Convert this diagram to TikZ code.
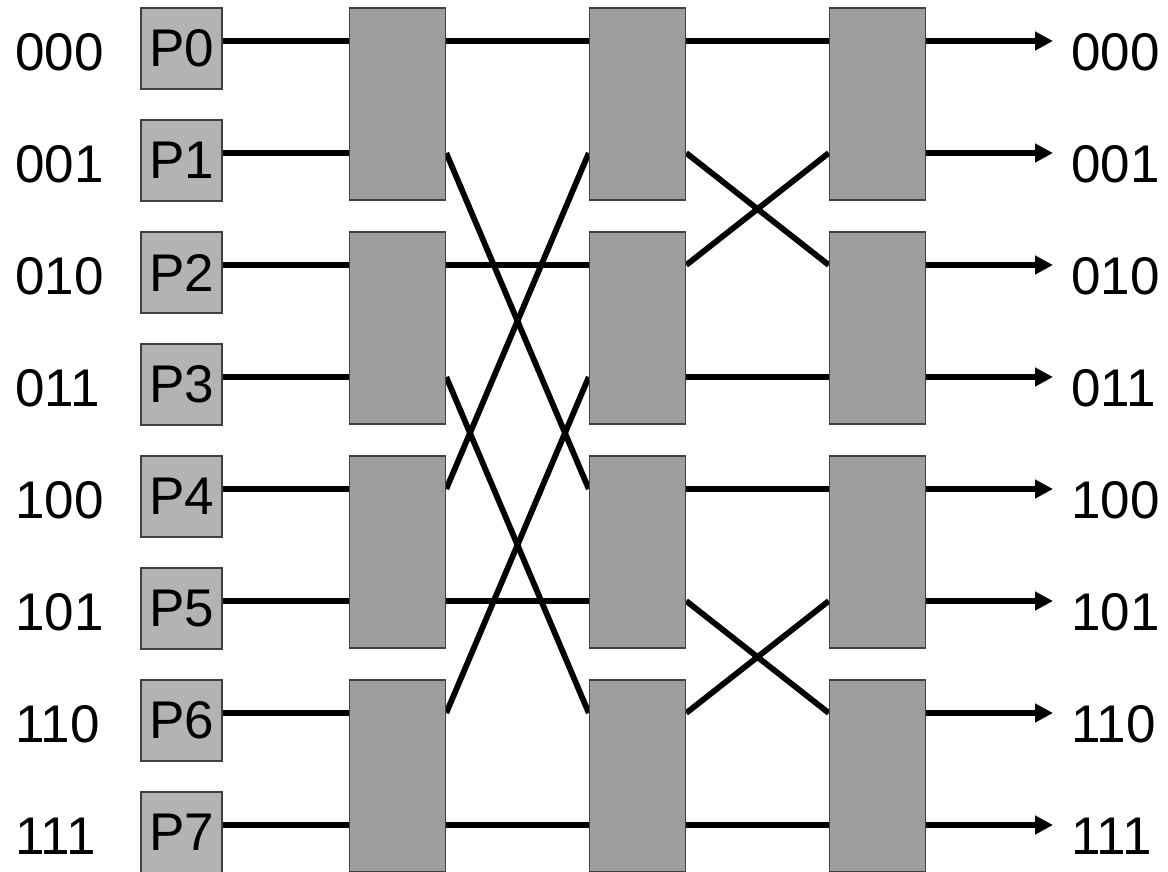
\documentclass[tikz,border=0pt]{standalone}
\usepackage{fontspec}
\setmainfont{Liberation Sans}
\usetikzlibrary{arrows.meta,backgrounds}
\definecolor{pgray}{HTML}{B3B3B3}
\definecolor{sgray}{HTML}{9E9E9E}
\definecolor{edge}{HTML}{404040}
\begin{document}
\begin{tikzpicture}[x=1pt,y=-1pt,
  wire/.style={line width=5.8pt},
  outwire/.style={wire,-{Triangle[length=18pt,width=18pt]}},
  bigtext/.style={font=\fontsize{53}{53}\selectfont},
  proc/.style={draw=edge,line width=1.5pt,fill=pgray,minimum width=81pt,
    minimum height=81pt,inner sep=0pt,bigtext},
  switchbox/.style={draw=edge,line width=1.5pt,fill=sgray,minimum width=96pt,
    minimum height=192pt,inner sep=0pt},
  addr/.style={anchor=base west,inner sep=0pt,bigtext}]
\useasboundingbox (0,0) rectangle (1168,871);
\clip (0,0) rectangle (1168,871);

% rows, processors and address labels
\foreach \i/\b in {0/000,1/001,2/010,3/011,4/100,5/101,6/110,7/111}{
  \pgfmathsetmacro\y{41+112*\i}
  \coordinate (row\i) at (0,\y);
  \coordinate (tip\i) at (1053,\y);
  \node[addr] (src\i) at (15,\y+29) {\b};
  \node[addr] (dst\i) at (1071,\y+29) {\b};
  \node[proc] (p\i) at (181.5,\y+7.5) {P\i};
}

% switch columns, two rows per switch
\foreach \c/\x in {1/397.5,2/637.5,3/877.5}{
  \foreach \k in {0,1,2,3}{
    \pgfmathsetmacro\y{41+224*\k+63}
    \node[switchbox] (sw\c-\k) at (\x,\y) {};
  }
}

% switch ports
\foreach \c in {1,2,3}{
  \foreach \i in {0,...,7}{
    \pgfmathtruncatemacro\k{div(\i,2)}
    \coordinate (in\c-\i) at (sw\c-\k.west |- row\i);
    \coordinate (out\c-\i) at (sw\c-\k.east |- row\i);
  }
}

\begin{scope}[on background layer]
  % processors into the first column
  \foreach \i in {0,...,7}
    \draw[wire] (p\i.east |- row\i) -- (in1-\i);
  % first to second column: exchange on the high bit
  \foreach \a/\b in {0/0,1/4,2/2,3/6,4/1,5/5,6/3,7/7}
    \draw[wire] (out1-\a) -- (in2-\b);
  % second to third column: exchange on the middle bit
  \foreach \a/\b in {0/0,1/2,2/1,3/3,4/4,5/6,6/5,7/7}
    \draw[wire] (out2-\a) -- (in3-\b);
\end{scope}

% outputs
\foreach \i in {0,...,7}
  \draw[outwire] (out3-\i) -- (tip\i);
\end{tikzpicture}
\end{document}
